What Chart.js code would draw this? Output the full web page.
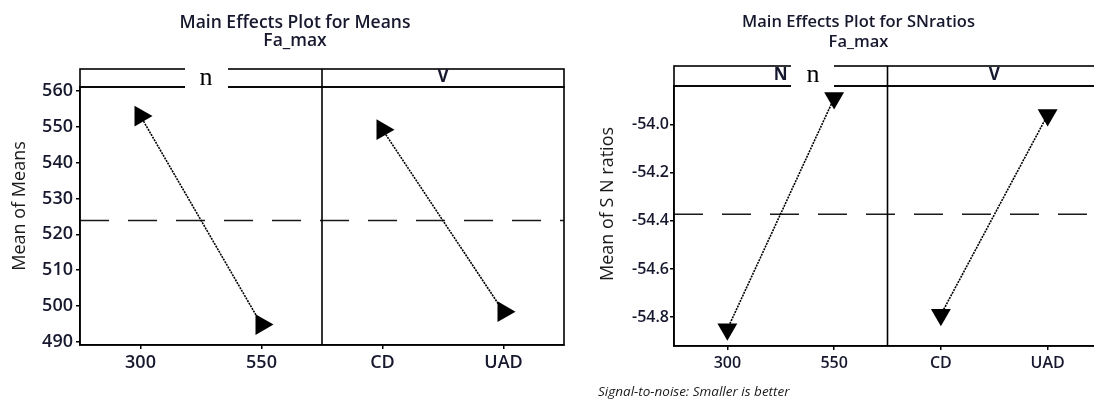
<!DOCTYPE html>
<html>
<head>
<meta charset="utf-8">
<script src="https://cdn.jsdelivr.net/npm/chart.js@4/dist/chart.umd.min.js"></script>
<style>
  html, body { margin: 0; padding: 0; background: #fff; overflow: hidden; }
  #wrap { position: relative; width: 1094px; height: 403px; overflow: hidden; background: #fff; }
  canvas { position: absolute; top: 0; }
  #means { left: 0; }
  #snr { left: 590px; }
</style>
</head>
<body>
<div id="wrap">
  <canvas id="means" width="590" height="403"></canvas>
  <canvas id="snr" width="537" height="403"></canvas>
</div>
<script>
// Factor levels along the x axis (two panels: N and V)
const levels = ['300', '550', 'CD', 'UAD'];
const factors = ['N', 'V'];

// Mean of means for each level
const meansN = [553.0, 494.8];
const meansV = [549.2, 498.4];

// Mean of SN ratios for each level
const snN = [-54.85, -53.89];
const snV = [-54.79, -53.96];

// Y tick values
const meansTicks = [490, 500, 510, 520, 530, 540, 550, 560];
const snTicks = [-54.8, -54.6, -54.4, -54.2, -54.0];

const INK = '#16182e';
const FONT = '"Open Sans", "Noto Sans", sans-serif';

function avg(arr) { return arr.reduce((a, b) => a + b, 0) / arr.length; }

// Frame, header strip, grand-mean reference line and text annotations
function decorPlugin(opt) {
  return {
    id: 'decor',
    beforeDatasetsDraw(chart) {
      const { ctx, chartArea: a, scales: { y } } = chart;
      const yy = y.getPixelForValue(opt.grandMean);
      ctx.save();
      ctx.strokeStyle = '#1a1a1a';
      ctx.lineWidth = 1.5;
      ctx.setLineDash([29, 19]);
      ctx.beginPath();
      ctx.moveTo(a.left, yy);
      ctx.lineTo(a.right, yy);
      ctx.stroke();
      ctx.restore();
    },
    afterDraw(chart) {
      const { ctx, chartArea: a, scales: { x } } = chart;
      const hTop = a.top - opt.headerH;
      ctx.save();
      ctx.strokeStyle = '#000';
      ctx.lineWidth = 1.6;
      ctx.setLineDash([]);
      // plot frame + header strip
      ctx.strokeRect(a.left, a.top, a.right - a.left, a.bottom - a.top);
      ctx.strokeRect(a.left, hTop, a.right - a.left, opt.headerH);
      // panel divider between the two factors
      const xd = x.getPixelForValue(1.5);
      ctx.beginPath();
      ctx.moveTo(xd, hTop);
      ctx.lineTo(xd, a.bottom);
      ctx.stroke();

      // factor names in the header
      ctx.fillStyle = INK;
      ctx.font = 'bold 17px ' + FONT;
      ctx.textAlign = 'center';
      ctx.textBaseline = 'alphabetic';
      factors.forEach((f, i) => {
        ctx.fillText(f, x.getPixelForValue(i * 2 + 0.5), a.top - opt.labelDrop);
      });

      // relabel patch over the first factor name
      ctx.fillStyle = '#fff';
      ctx.fillRect(opt.patch[0], opt.patch[1], opt.patch[2] - opt.patch[0], opt.patch[3] - opt.patch[1]);
      ctx.fillStyle = '#000';
      ctx.font = '26px "Liberation Serif", "DejaVu Serif", serif';
      ctx.textAlign = 'center';
      ctx.fillText('n', opt.patchText[0], opt.patchText[1]);

      // titles
      ctx.fillStyle = INK;
      ctx.font = '600 ' + opt.titleSize + 'px ' + FONT;
      const cx = chart.width / 2;
      ctx.fillText(opt.title, cx, opt.titleY[0]);
      ctx.fillText('Fa_max', cx, opt.titleY[1]);

      // y axis title
      ctx.save();
      ctx.translate(opt.yTitle[0], opt.yTitle[1]);
      ctx.rotate(-Math.PI / 2);
      ctx.font = '500 18px ' + FONT;
      ctx.fillStyle = '#1a1a1a';
      ctx.textAlign = 'center';
      ctx.fillText(opt.yTitleText, 0, 0);
      ctx.restore();

      if (opt.note) {
        ctx.font = 'italic 13.5px ' + FONT;
        ctx.fillStyle = '#1a1a1a';
        ctx.textAlign = 'left';
        ctx.fillText(opt.note, opt.noteAt[0], opt.noteAt[1]);
      }
      ctx.restore();
    }
  };
}

function makeChart(id, seriesA, seriesB, ticks, range, opt) {
  opt.grandMean = avg(seriesA.concat(seriesB));
  const tickFont = { family: FONT, size: opt.tickSize, weight: '600' };
  const lineStyle = {
    borderColor: '#000',
    borderWidth: 1.6,
    borderDash: [2, 1],
    pointStyle: 'triangle',
    pointRotation: opt.rotation,
    pointRadius: opt.markerR,
    pointBackgroundColor: '#000',
    pointBorderColor: '#000',
    pointBorderWidth: 0,
    spanGaps: false,
    tension: 0,
    fill: false
  };
  return new Chart(document.getElementById(id), {
    type: 'line',
    data: {
      labels: levels,
      datasets: [
        Object.assign({ label: factors[0], data: [seriesA[0], seriesA[1], null, null] }, lineStyle),
        Object.assign({ label: factors[1], data: [null, null, seriesB[0], seriesB[1]] }, lineStyle)
      ]
    },
    options: {
      responsive: false,
      animation: false,
      layout: { padding: { top: opt.padTop, right: 26, left: 0, bottom: 0 } },
      plugins: { legend: { display: false }, tooltip: { enabled: false }, title: { display: false } },
      scales: {
        x: {
          type: 'category',
          offset: true,
          grid: { display: true, drawOnChartArea: false, drawTicks: true, offset: false, tickLength: 4, color: '#000', lineWidth: 1.5 },
          border: { display: true, color: '#000', width: 1.6 },
          ticks: { color: INK, font: tickFont, padding: opt.xPad, maxRotation: 0, autoSkip: false },
          afterFit(s) { s.height = opt.xH; }
        },
        y: {
          min: range[0],
          max: range[1],
          grid: { display: true, drawOnChartArea: false, drawTicks: true, tickLength: 4, color: '#000', lineWidth: 1.5 },
          border: { display: true, color: '#000', width: 1.6 },
          ticks: {
            color: INK, font: tickFont, padding: opt.yPad,
            callback: v => opt.decimals ? Number(v).toFixed(opt.decimals) : String(v)
          },
          afterBuildTicks(s) { s.ticks = ticks.map(v => ({ value: v })); },
          afterFit(s) { s.width = opt.yW; }
        }
      }
    },
    plugins: [decorPlugin(opt)]
  });
}

makeChart('means', meansN, meansV, meansTicks, [489.1, 561.1], {
  title: 'Main Effects Plot for Means',
  titleSize: 17.5, titleY: [28, 46],
  yTitleText: 'Mean of Means', yTitle: [25, 206],
  padTop: 87, headerH: 18, labelDrop: 5,
  xH: 58, yW: 80, tickSize: 18, xPad: 3, yPad: 3, decimals: 0,
  rotation: 90, markerR: 12,
  patch: [185, 64, 228, 90], patchText: [206, 85]
});

makeChart('snr', snN, snV, snTicks, [-54.92, -53.84], {
  title: 'Main Effects Plot for SNratios',
  titleSize: 16.5, titleY: [27, 47],
  yTitleText: 'Mean of S N ratios', yTitle: [23, 204],
  padTop: 86, headerH: 20, labelDrop: 6,
  xH: 57, yW: 84, tickSize: 16, xPad: 4, yPad: 1, decimals: 1,
  rotation: 180, markerR: 11.5,
  patch: [201, 62, 244, 91], patchText: [223, 82],
  note: 'Signal-to-noise: Smaller is better', noteAt: [8, 396]
});
</script>
</body>
</html>
